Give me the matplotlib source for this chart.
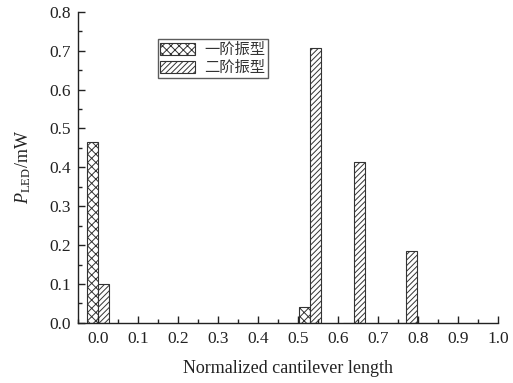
import numpy as np
import matplotlib
matplotlib.use('Agg')
import matplotlib.pyplot as plt
from matplotlib.ticker import MultipleLocator

plt.rcParams['font.family'] = ['Liberation Serif', 'Noto Sans CJK SC', 'DejaVu Sans']
plt.rcParams['mathtext.fontset'] = 'custom'
plt.rcParams['mathtext.rm'] = 'Liberation Serif'
plt.rcParams['mathtext.it'] = 'Liberation Serif:italic'
plt.rcParams['hatch.linewidth'] = 0.7

# data
positions = [0.0, 0.53, 0.64, 0.77]
mode1 = [0.465, 0.042, 0.0, 0.0]
mode2 = [0.10, 0.708, 0.414, 0.186]
labels = ['一阶振型', '二阶振型']
width = 0.028

fig = plt.figure(figsize=(5.13, 3.83), dpi=100)
ax = fig.add_axes([0.152, 0.157, 0.819, 0.812])

x = np.array(positions)
ax.bar(x - width / 2, mode1, width, color='white', edgecolor='#333333',
       linewidth=0.8, hatch='xxxx', label=labels[0])
ax.bar(x + width / 2, mode2, width, color='white', edgecolor='#333333',
       linewidth=0.8, hatch='//////', label=labels[1])

ax.set_xlim(-0.05, 1.0)
ax.set_ylim(0, 0.8)
ax.xaxis.set_major_locator(MultipleLocator(0.1))
ax.xaxis.set_minor_locator(MultipleLocator(0.05))
ax.yaxis.set_major_locator(MultipleLocator(0.1))
ax.yaxis.set_minor_locator(MultipleLocator(0.05))
ax.xaxis.set_major_formatter(lambda v, p: '%.1f' % v)
ax.yaxis.set_major_formatter(lambda v, p: '%.1f' % v)

for side in ['top', 'right']:
    ax.spines[side].set_visible(False)
for side in ['left', 'bottom']:
    ax.spines[side].set_linewidth(1.0)
    ax.spines[side].set_color('#222222')
ax.tick_params(which='major', direction='in', length=5, width=1.0,
               labelsize=12.5, color='#222222', labelcolor='#222222')
ax.tick_params(axis='x', which='major', pad=6)
ax.tick_params(axis='y', which='major', pad=5)
ax.tick_params(which='minor', direction='in', length=3, width=1.0, color='#222222')

ax.set_xlabel('Normalized cantilever length', fontsize=13, labelpad=9,
              color='#222222')
ax.set_ylabel(r'$P_{\mathrm{LED}}$/mW', fontsize=13, labelpad=12,
              color='#222222')

leg = ax.legend(loc='upper left', bbox_to_anchor=(0.19, 0.913),
                prop={'family': ['Noto Sans CJK SC'], 'size': 11},
                frameon=True, fancybox=False, edgecolor='#333333',
                handlelength=2.3, handleheight=0.8, borderpad=0.15,
                labelspacing=0.05, handletextpad=0.6, borderaxespad=0)
leg.get_frame().set_linewidth(1.0)
for t in leg.get_texts():
    t.set_color('#333333')

fig.savefig('out.png', dpi=100)
